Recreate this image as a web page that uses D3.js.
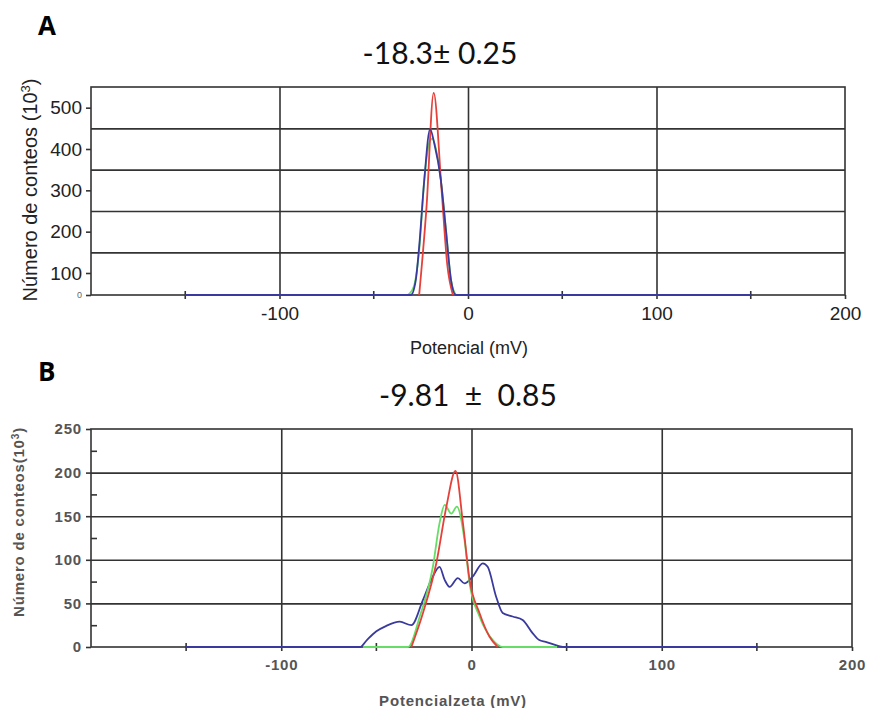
<!DOCTYPE html>
<html>
<head>
<meta charset="utf-8">
<script src="https://cdn.jsdelivr.net/npm/d3@7"></script>
<style>
  body { margin: 0; background: #fff; }
  text { font-family: "Liberation Sans", Arial, sans-serif; }
</style>
</head>
<body>
<div id="chart"></div>
<script>
// panel A: potencial (mV) vs conteos (10^3)
var aBlueX = [-150, -30.3, -27.7, -25.9, -23.2, -20.1, -17.9, -14.4, -11.7, -9, -6.4, 150];
var aBlueY = [0, 0, 68, 164, 325, 448, 414, 325, 204, 68, 0, 0];
var aGreenX = [-31.9, -28.7, -26, -22.9, -20.2, -19, -17, -14.4, -11.7, -9, -6.4];
var aGreenY = [0, 40, 150, 340, 420, 425, 400, 325, 204, 68, 0];
var aRedX = [-25.9, -22, -18.2, -14, -11, -8];
var aRedY = [0, 260, 536, 300, 120, 0];
var aYTicks = [0, 100, 200, 300, 400, 500];
var aYGrid = [150, 250, 350, 450];

// panel B: potencial zeta (mV) vs conteos (10^3)
var bBlueX = [-150, -58.6, -55, -50, -45, -37.7, -31.6, -25.5, -20.3, -16.8, -14.1, -11.5, -7.2, -3.7, 0.7, 5.9, 8.5, 12.9, 16.4, 21.6, 26.9, 32.1, 35.6, 39, 46, 49, 150];
var bBlueY = [0, 0, 8, 18, 24, 29, 25, 54, 81, 92, 77, 69, 79, 73, 81, 96, 92, 58, 39, 35, 31, 16, 8, 6, 1, 0, 0];
var bGreenX = [-57, -33.3, -27.2, -20.3, -16.8, -14.1, -10.6, -7.7, -3.7, -1, 4.2, 11.2, 16.4, 45];
var bGreenY = [0, 0, 35, 92, 142, 163, 153, 161, 123, 73, 35, 8, 0, 0];
var bRedX = [-31.6, -25.5, -18.5, -13.2, -8.4, -4.5, -1, 4.2, 9.4, 13.8];
var bRedY = [0, 39, 96, 161, 202, 142, 77, 39, 12, 0];
var bYTicks = [0, 50, 100, 150, 200, 250];
var bYMinor = [25, 75, 125, 175, 225];

var xTicks = [-100, 0, 100, 200];
var xMinor = [-150, -50, 50, 150];

var colors = { red: "#e6403a", green: "#66dd66", blue: "#3a3a9e" };

var svg = d3.select("#chart").append("svg")
    .attr("width", 869)
    .attr("height", 708);

function zip(xs, ys) {
    return xs.map(function (x, i) { return [x, ys[i]]; });
}

// plain hyphen minus like the original
var fmt = function (d) { return String(d); };

function drawPanel(cfg) {
    var g = svg.append("g").attr("transform", "translate(" + cfg.left + "," + cfg.top + ")");
    var w = cfg.width, h = cfg.height;
    var x = d3.scaleLinear().domain([-200, 200]).range([0, w]);
    var y = d3.scaleLinear().domain(cfg.yDomain).range(cfg.yRange);

    // horizontal grid
    g.append("g")
        .call(d3.axisLeft(y).tickValues(cfg.yGrid).tickSize(-w).tickFormat(""))
        .call(function (s) { s.select(".domain").remove(); })
        .selectAll("line").attr("stroke", "#333").attr("stroke-width", 1.6);
    // vertical grid
    g.append("g")
        .call(d3.axisBottom(x).tickValues([-100, 0, 100]).tickSize(h).tickFormat(""))
        .call(function (s) { s.select(".domain").remove(); })
        .selectAll("line").attr("stroke", "#333").attr("stroke-width", 1.6);

    g.append("rect")
        .attr("width", w).attr("height", h)
        .attr("fill", "none").attr("stroke", "#333").attr("stroke-width", 1.6);

    // y axis
    var ya = g.append("g")
        .call(d3.axisLeft(y).tickValues(cfg.yTicks).tickSize(5).tickPadding(4).tickFormat(fmt))
        .call(function (s) { s.select(".domain").remove(); });
    ya.selectAll("line").attr("stroke", "#333").attr("stroke-width", 1.6);
    ya.selectAll("text")
        .style("font-family", "Liberation Sans, Arial, sans-serif")
        .style("font-size", cfg.tickFont + "px")
        .style("font-weight", cfg.bold ? "bold" : "normal")
        .style("letter-spacing", cfg.spacing + "px")
        .attr("fill", cfg.textColor);
    if (cfg.smallZero) {
        ya.selectAll(".tick").filter(function (d) { return d === 0; })
            .select("text").style("font-size", "9px").attr("fill", "#666");
    }
    if (cfg.yMinor) {
        g.append("g")
            .call(d3.axisRight(y).tickValues(cfg.yMinor).tickSize(6).tickFormat(""))
            .call(function (s) { s.select(".domain").remove(); })
            .selectAll("line").attr("stroke", "#333").attr("stroke-width", 1.6);
    }

    // x axis
    var xa = g.append("g")
        .attr("transform", "translate(0," + h + ")")
        .call(d3.axisBottom(x).tickValues(xTicks).tickSize(4).tickPadding(cfg.xPad).tickFormat(fmt))
        .call(function (s) { s.select(".domain").remove(); });
    xa.selectAll("line").attr("stroke", "#333").attr("stroke-width", 1.6);
    xa.selectAll("text")
        .style("font-family", "Liberation Sans, Arial, sans-serif")
        .style("font-size", cfg.tickFont + "px")
        .style("font-weight", cfg.bold ? "bold" : "normal")
        .style("letter-spacing", cfg.spacing + "px")
        .attr("fill", cfg.textColor);
    g.append("g")
        .selectAll("line").data(xMinor).join("line")
        .attr("x1", function (d) { return x(d); })
        .attr("x2", function (d) { return x(d); })
        .attr("y1", h - 4).attr("y2", h + 4)
        .attr("stroke", "#333").attr("stroke-width", 1.6);

    var line = d3.line()
        .x(function (d) { return x(d[0]); })
        .y(function (d) { return y(d[1]); })
        .curve(d3.curveMonotoneX);

    cfg.series.forEach(function (s) {
        g.append("path")
            .datum(zip(s.x, s.y))
            .attr("d", line)
            .attr("fill", "none")
            .attr("stroke", s.color)
            .attr("stroke-width", 1.8);
    });

    // labels
    svg.append("text")
        .attr("transform", "translate(" + cfg.yLabelX + "," + cfg.yLabelY + ") rotate(-90)")
        .attr("text-anchor", "middle")
        .style("font-size", cfg.yLabelFont + "px")
        .style("font-weight", cfg.bold ? "bold" : "normal")
        .style("letter-spacing", cfg.spacing + "px")
        .attr("fill", cfg.textColor)
        .html(cfg.yLabel);

    svg.append("text")
        .attr("x", cfg.xLabelX).attr("y", cfg.xLabelY)
        .attr("text-anchor", "middle")
        .style("font-size", cfg.xLabelFont + "px")
        .style("font-weight", cfg.bold ? "bold" : "normal")
        .style("letter-spacing", cfg.spacing + "px")
        .attr("fill", cfg.textColor)
        .text(cfg.xLabel);

    svg.append("text")
        .attr("x", 38).attr("y", cfg.letterY)
        .style("font-family", "Open Sans, sans-serif")
        .style("font-size", "26px").style("font-weight", "bold")
        .text(cfg.letter);

    svg.append("text")
        .attr("x", cfg.titleX).attr("y", cfg.titleY)
        .attr("text-anchor", "middle")
        .style("font-family", "Lato, sans-serif")
        .style("font-size", "30px")
        .style("white-space", "pre")
        .attr("fill", "#111")
        .text(cfg.title);
}

drawPanel({
    left: 91, top: 87, width: 754, height: 208,
    yDomain: [0, 100, 550], yRange: [208, 186, 0],
    yTicks: aYTicks, yGrid: aYGrid, smallZero: true,
    tickFont: 19, xPad: 8, bold: false, textColor: "#222", spacing: 0,
    yLabel: "Número de conteos (10<tspan baseline-shift='super' font-size='13'>3</tspan>)",
    yLabelX: 37, yLabelY: 190, yLabelFont: 20,
    xLabel: "Potencial (mV)", xLabelX: 469, xLabelY: 354, xLabelFont: 18,
    letter: "A", letterY: 35,
    title: "-18.3± 0.25", titleX: 440, titleY: 64,
    series: [
        { x: aGreenX, y: aGreenY, color: colors.green },
        { x: aRedX, y: aRedY, color: colors.red },
        { x: aBlueX, y: aBlueY, color: colors.blue }
    ]
});

drawPanel({
    left: 91, top: 429, width: 761, height: 218,
    yDomain: [0, 250], yRange: [218, 0],
    yTicks: bYTicks, yGrid: [50, 100, 150, 200], yMinor: bYMinor,
    tickFont: 15, xPad: 8, bold: true, textColor: "#555", spacing: 0.8,
    yLabel: "Número de conteos(10<tspan baseline-shift='super' font-size='10'>3</tspan>)",
    yLabelX: 24, yLabelY: 522, yLabelFont: 15,
    xLabel: "Potencialzeta (mV)", xLabelX: 453, xLabelY: 706, xLabelFont: 15,
    letter: "B", letterY: 381,
    title: "-9.81  \u00b1  0.85", titleX: 468, titleY: 406,
    series: [
        { x: bBlueX, y: bBlueY, color: colors.blue },
        { x: bGreenX, y: bGreenY, color: colors.green },
        { x: bRedX, y: bRedY, color: colors.red }
    ]
});
</script>
</body>
</html>
